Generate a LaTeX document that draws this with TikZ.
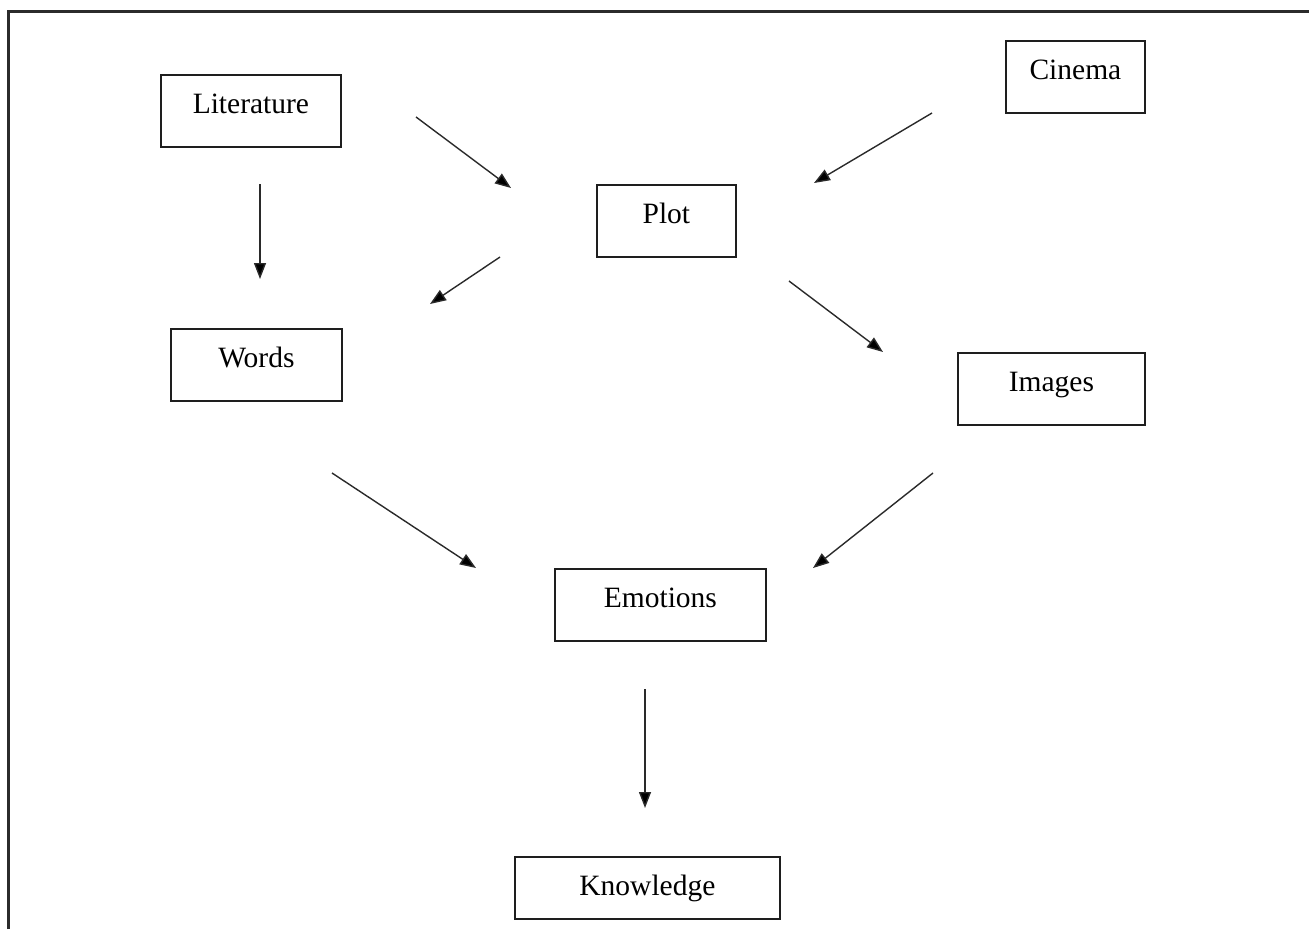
\documentclass[tikz,border=0pt]{standalone}
\usepackage{fontspec}
\setmainfont{Liberation Serif}
\usetikzlibrary{arrows.meta}
\definecolor{Ink}{HTML}{1E1E1E}
\definecolor{Frame}{HTML}{2B2B2B}
\definecolor{Link}{HTML}{2A2A2A}

\begin{document}
\begin{tikzpicture}[x=1pt, y=-1pt,
    box/.style={draw=Ink, line width=1.8pt, anchor=north west, inner xsep=0pt, inner ysep=0pt,
        font=\fontsize{29.5}{30}\selectfont, text height=39pt, text depth=33pt},
    link/.style={Link, line width=1.4pt, -{Triangle[length=16pt, width=12pt, fill=black]}}]
\useasboundingbox (0,0) rectangle (1309,929);

% frame, cut on the right and at the bottom
\draw[Frame, line width=3pt] (8,929) -- (8,11) -- (1309,11);

% boxes
\node[box, minimum width=180pt] (literature) at (160,74)  {Literature};
\node[box, minimum width=139pt] (cinema)     at (1005,40) {Cinema};
\node[box, minimum width=139pt] (plot)       at (596,184) {Plot};
\node[box, minimum width=171pt] (words)      at (170,328) {Words};
\node[box, minimum width=187pt] (images)     at (957,352) {Images};
\node[box, minimum width=211pt] (emotions)   at (554,568) {Emotions};
\node[box, minimum width=265pt, text depth=23pt] (knowledge) at (514,856) {Knowledge};

% loose arrow ends
\coordinate (lit-down-a) at (260,184);  \coordinate (lit-down-b) at (260,279);
\coordinate (lit-plot-a) at (416,117);  \coordinate (lit-plot-b) at (511,188);
\coordinate (cin-plot-a) at (932,113);  \coordinate (cin-plot-b) at (814,183);
\coordinate (plot-words-a) at (500,257); \coordinate (plot-words-b) at (430,304);
\coordinate (plot-img-a) at (789,281);  \coordinate (plot-img-b) at (883,352);
\coordinate (words-emo-a) at (332,473); \coordinate (words-emo-b) at (476,568);
\coordinate (img-emo-a) at (933,473);   \coordinate (img-emo-b) at (813,568);
\coordinate (emo-know-a) at (645,689);  \coordinate (emo-know-b) at (645,808);

\draw[link] (lit-down-a) -- (lit-down-b);
\draw[link] (lit-plot-a) -- (lit-plot-b);
\draw[link] (cin-plot-a) -- (cin-plot-b);
\draw[link] (plot-words-a) -- (plot-words-b);
\draw[link] (plot-img-a) -- (plot-img-b);
\draw[link] (words-emo-a) -- (words-emo-b);
\draw[link] (img-emo-a) -- (img-emo-b);
\draw[link] (emo-know-a) -- (emo-know-b);
\end{tikzpicture}
\end{document}
